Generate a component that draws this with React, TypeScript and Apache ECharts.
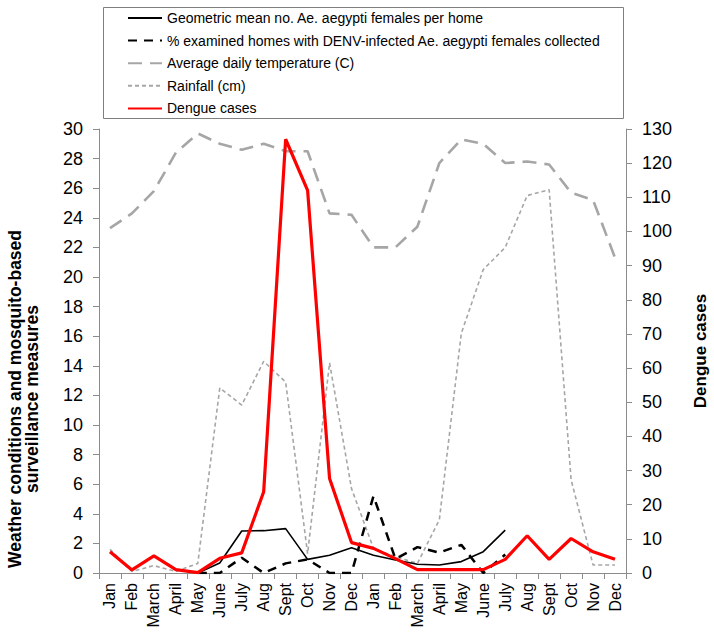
import React, { useEffect, useRef } from "react";
import * as echarts from "echarts";

const months = [
  "Jan", "Feb", "March", "April", "May", "June", "July", "Aug", "Sept", "Oct", "Nov", "Dec",
  "Jan", "Feb", "March", "April", "May", "June", "July", "Aug", "Sept", "Oct", "Nov", "Dec",
];

const geoMean = [
  null, null, null, null, 0, 0.68, 2.84, 2.86, 3.0, 0.92, 1.2, 1.7,
  1.2, 0.88, 0.59, 0.54, 0.77, 1.44, 2.9, null, null, null, null, null,
];

const pctInfected = [
  null, null, null, null, 0, 0, 1.03, 0, 0.65, 0.92, 0, 0,
  5.2, 0.95, 1.75, 1.38, 1.9, 0, 1.25, null, null, null, null, null,
];

const temperature = [
  23.3, 24.3, 25.8, 28.4, 29.7, 29.0, 28.6, 29.0, 28.5, 28.5, 24.3, 24.2,
  22.0, 22.0, 23.4, 27.7, 29.3, 29.0, 27.7, 27.8, 27.6, 25.7, 25.2, 21.3,
];

const rainfall = [
  1.6, 0.1, 0.5, 0.1, 0.65, 12.5, 11.35, 14.3, 12.9, 1.3, 14.2, 5.7,
  1.67, 1.1, 0.65, 3.6, 16.2, 20.5, 22.0, 25.5, 25.9, 6.3, 0.54, 0.54,
];

const dengueCases = [
  6.2, 0.9, 5, 1, 0.1, 4.3, 5.9, 23.8, 127, 112, 27.7, 8.9,
  7.2, 4.2, 1, 1, 1, 1, 4, 10.9, 4, 10.1, 6.2, 4,
];

const seriesNames = [
  "Geometric mean no. Ae. aegypti females per home",
  "% examined homes with DENV-infected Ae. aegypti females collected",
  "Average daily temperature (C)",
  "Rainfall (cm)",
  "Dengue cases",
];

const FONT = "'Liberation Sans', Arial, sans-serif";
const AXIS_GRAY = "#8c8c8c";

export default function App() {
  const ref = useRef<HTMLDivElement>(null);

  useEffect(() => {
    document.body.style.margin = "0";
    if (!ref.current) return;
    const chart = echarts.init(ref.current, null, { renderer: "svg" });
    const axisLine = { show: true, lineStyle: { color: AXIS_GRAY, width: 1 } };
    const axisTick = { show: true, length: 6, lineStyle: { color: AXIS_GRAY } };
    chart.setOption({
      animation: false,
      backgroundColor: "#ffffff",
      textStyle: { fontFamily: FONT },
      grid: { left: 99, right: 88, top: 129, bottom: 68, containLabel: false },
      legend: {
        orient: "vertical",
        left: 127,
        top: 11,
        padding: 0,
        itemWidth: 34,
        itemHeight: 14,
        itemGap: 8.6,
        data: seriesNames,
        itemStyle: { opacity: 0 },
        textStyle: { fontFamily: FONT, fontSize: 14, color: "#000" },
      },
      graphic: [
        {
          type: "rect",
          shape: { x: 103.5, y: 7.5, width: 520, height: 111 },
          style: { fill: "none", stroke: "#7f7f7f", lineWidth: 1 },
          z: -1,
        },
        {
          type: "text",
          x: 23,
          y: 399,
          rotation: Math.PI / 2,
          style: {
            text: "Weather conditions and mosquito-based\nsurveillance measures",
            font: `bold 17.5px ${FONT}`,
            fill: "#000",
            align: "center",
            verticalAlign: "middle",
            lineHeight: 17,
          },
        },
        {
          type: "text",
          x: 700,
          y: 351,
          rotation: Math.PI / 2,
          style: {
            text: "Dengue cases",
            font: `bold 17px ${FONT}`,
            fill: "#000",
            align: "center",
            verticalAlign: "middle",
          },
        },
      ],
      xAxis: {
        type: "category",
        data: months,
        boundaryGap: true,
        axisLine,
        axisTick: { ...axisTick, alignWithLabel: false },
        axisLabel: {
          rotate: 90,
          interval: 0,
          margin: 10,
          fontSize: 16,
          color: "#000",
          fontFamily: FONT,
        },
        splitLine: { show: false },
      },
      yAxis: [
        {
          type: "value",
          min: 0,
          max: 30,
          interval: 2,
          axisLine,
          axisTick,
          axisLabel: { fontSize: 18, color: "#000", margin: 16, fontFamily: FONT },
          splitLine: { show: false },
        },
        {
          type: "value",
          min: 0,
          max: 130,
          interval: 10,
          position: "right",
          axisLine,
          axisTick,
          axisLabel: { fontSize: 18, color: "#000", margin: 16, fontFamily: FONT },
          splitLine: { show: false },
        },
      ],
      series: [
        {
          name: seriesNames[0],
          type: "line",
          data: geoMean,
          yAxisIndex: 0,
          symbol: "none",
          connectNulls: false,
          lineStyle: { color: "#000", width: 1.6, type: "solid" },
          itemStyle: { color: "#000" },
          z: 3,
        },
        {
          name: seriesNames[1],
          type: "line",
          data: pctInfected,
          yAxisIndex: 0,
          symbol: "none",
          lineStyle: { color: "#000", width: 2.5, type: [9, 7] },
          itemStyle: { color: "#000" },
          z: 3,
        },
        {
          name: seriesNames[2],
          type: "line",
          data: temperature,
          yAxisIndex: 0,
          symbol: "none",
          lineStyle: { color: "#a6a6a6", width: 2.6, type: [14, 8] },
          itemStyle: { color: "#a6a6a6" },
          z: 2,
        },
        {
          name: seriesNames[3],
          type: "line",
          data: rainfall,
          yAxisIndex: 0,
          symbol: "none",
          lineStyle: { color: "#a6a6a6", width: 1.6, type: [4, 3] },
          itemStyle: { color: "#a6a6a6" },
          z: 2,
        },
        {
          name: seriesNames[4],
          type: "line",
          data: dengueCases,
          yAxisIndex: 1,
          symbol: "none",
          lineStyle: { color: "#ff0000", width: 3.2, type: "solid" },
          itemStyle: { color: "#ff0000" },
          z: 4,
        },
      ],
    });
    return () => chart.dispose();
  }, []);

  return <div ref={ref} style={{ width: 714, height: 641 }} />;
}
